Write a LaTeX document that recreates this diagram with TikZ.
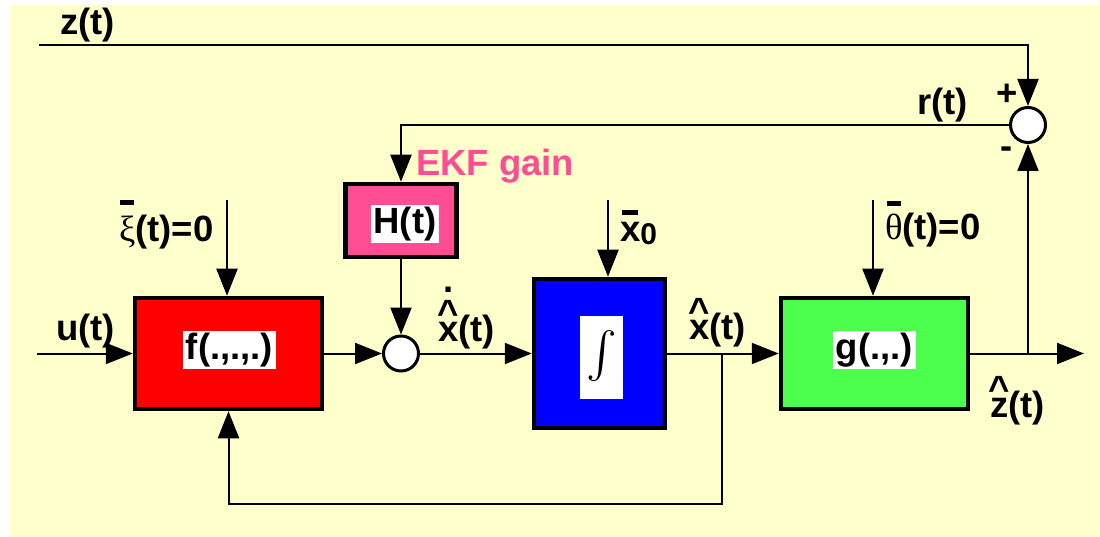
\documentclass[tikz,border=0pt]{standalone}
\usepackage{fontspec}
\usepackage{graphicx}
\setmainfont{Liberation Sans}
\newfontfamily\kfgreek{Liberation Serif}
\usetikzlibrary{arrows.meta}
\definecolor{kf-back}{HTML}{FFFFCC}
\definecolor{kf-red}{HTML}{FF0000}
\definecolor{kf-blue}{HTML}{0000FF}
\definecolor{kf-green}{HTML}{4DFF4D}
\definecolor{kf-pink}{HTML}{FF4D94}
% put a mark (hat, dot, bar) centred over a glyph
\newcommand\kfover[3]{\leavevmode\setbox0\hbox{#1}\rlap{\hbox to\wd0{\hss\raisebox{#2}{#3}\hss}}\box0}

\begin{document}
\begin{tikzpicture}[x=1pt, y=-1pt, >={Triangle[length=27pt,width=21pt]}, line width=2pt,
    font=\fontsize{36.5}{40}\selectfont\bfseries,
    block/.style={draw, line width=4.5pt, inner sep=0pt},
    sum/.style={draw, circle, fill=white, line width=3pt, minimum size=35pt, inner sep=0pt},
    tag/.style={fill=white, inner xsep=3pt, inner ysep=2pt},
    lbl/.style={inner sep=0pt, anchor=base west}]
    \useasboundingbox (0,0) rectangle (1100,537);
    \fill[kf-back] (10,5) rectangle (1100,537);

    % blocks
    \node[block, fill=kf-red, minimum width=187pt, minimum height=111pt] (f) at (228.5,353.5) {};
    \node[block, fill=kf-blue, minimum width=131pt, minimum height=149pt] (int) at (599.5,353.5) {};
    \node[block, fill=kf-green, minimum width=187pt, minimum height=111pt] (g) at (874.5,353.5) {};
    \node[block, fill=kf-pink, minimum width=111pt, minimum height=73pt] (H) at (401,220.5) {};
    \node[sum] (sum1) at (401,353.5) {};
    \node[sum] (sum2) at (1028,125) {};

    \node[tag] (flab) at (229.5,350) {f(.,.,.)};
    \node[tag] (glab) at (874.5,350) {g(.,.)};
    \node[tag] (Hlab) at (405,224) {H(t)};
    \node[fill=white, inner sep=0pt, minimum width=43pt, minimum height=83pt] (intlab)
        at (601.5,357.5) {\scalebox{4.6}{$\int$}};

    % free ends
    \coordinate (zin) at (39,45);
    \coordinate (uin) at (37,353.5);
    \coordinate (xiin) at (227,200);
    \coordinate (x0in) at (608,200);
    \coordinate (thin) at (873,200);
    \coordinate (split) at (722,353.5);
    \coordinate (loop) at (722,504);
    \coordinate (tap) at (sum2 |- g.east);
    \coordinate (zout) at (1084,353.5);

    % connectors
    \draw[->] (uin) -- (f.west);
    \draw[->] (f.east) -- (sum1.west);
    \draw[->] (sum1.east) -- (int.west);
    \draw[->] (int.east) -- (g.west);
    \draw[->] (g.east) -- (zout);
    \draw[->] (split) -- (loop) -| (f.south);
    \draw[->] (tap) -- (sum2.south);
    \draw[->] (zin) -| (sum2.north);
    \draw[->] (sum2.west) -| (H.north);
    \draw[->] (H.south) -- (sum1.north);
    \draw[->] (xiin) -- (xiin |- f.north);
    \draw[->] (x0in) -- (x0in |- int.north);
    \draw[->] (thin) -- (thin |- g.north);

    % signal labels
    \node[lbl] (zlab) at (59,35) {z(t)};
    \node[lbl] (rlab) at (916,115) {r(t)};
    \node[lbl] (ulab) at (55,340) {u(t)};
    \node[lbl] (xdlab) at (437,341) {\kfover{\kfover{x}{16pt}{\textasciicircum}}{48pt}{.}(t)};
    \node[lbl] (xlab) at (688,339) {\kfover{x}{16pt}{\textasciicircum}(t)};
    \node[lbl] (zhlab) at (989,417) {\kfover{z}{16pt}{\textasciicircum}(t)};
    \node[lbl] (xilab) at (118,242) {\kfover{\kfgreek\mdseries ξ}{37pt}{\rule{14pt}{5pt}}(t)=0};
    \node[lbl] (thlab) at (884,240) {\kfover{\kfgreek\mdseries θ}{34pt}{\rule{14pt}{5pt}}(t)=0};
    \node[lbl] (x0lab) at (619,242) {\kfover{x}{27pt}{\rule{16pt}{5pt}}\raisebox{-3pt}{\fontsize{30}{30}\selectfont 0}};
    \node[lbl, text=kf-pink] (gainlab) at (415,176) {EKF gain};
    \node[inner sep=0pt] (plus) at (1007,95) {+};
    \node[inner sep=0pt] (minus) at (1007,153) {-};
\end{tikzpicture}
\end{document}
